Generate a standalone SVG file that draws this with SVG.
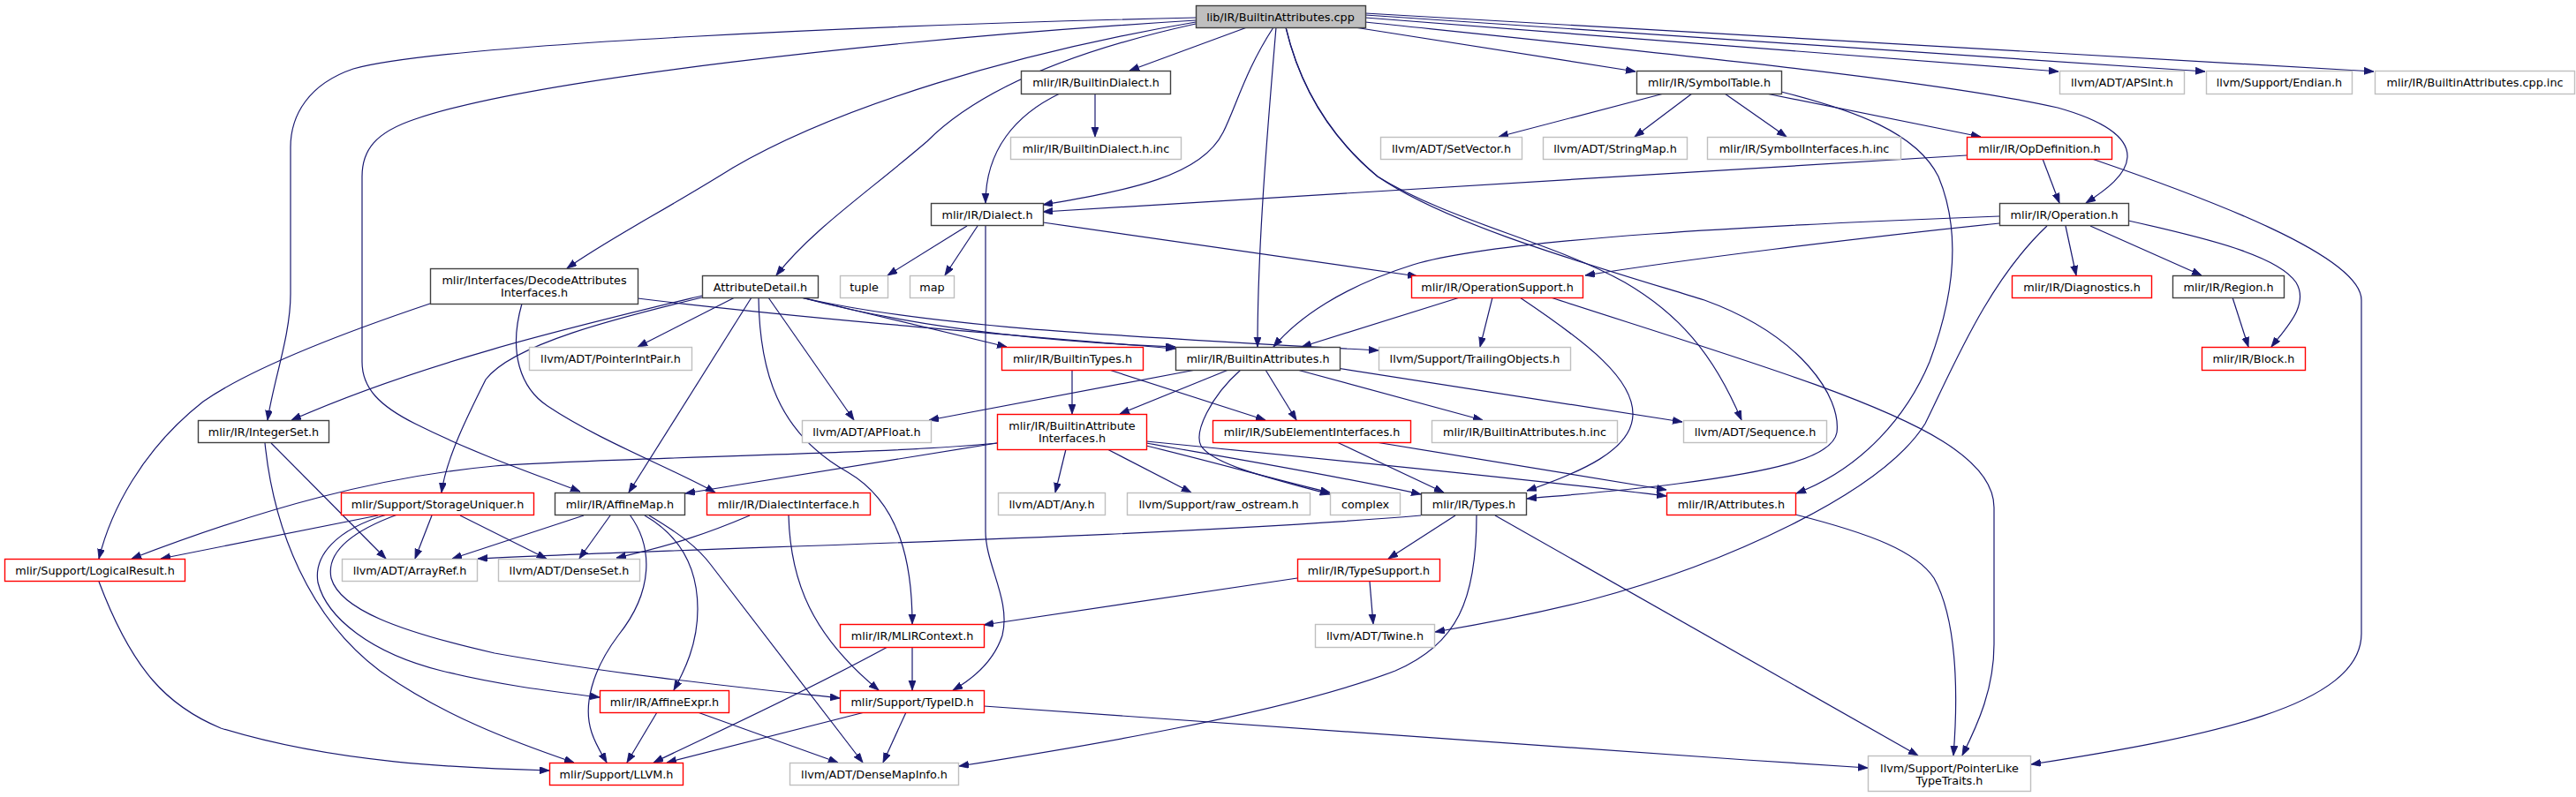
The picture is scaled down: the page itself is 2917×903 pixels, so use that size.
<svg xmlns="http://www.w3.org/2000/svg" width="2917" height="903" viewBox="0 0 2917 903">
<defs>
<marker id="ah" markerUnits="userSpaceOnUse" markerWidth="12" markerHeight="9" refX="11" refY="4" orient="auto">
<path d="M0,0 L11,4 L0,8 z" fill="#191970" stroke="#191970" stroke-width="0.8"/>
</marker>
<style>
.node rect{fill:#ffffff;stroke-width:1.4}
.k{stroke:#404040}
.g{stroke:#bfbfbf}
.r{stroke:#ff0000}
.root{fill:#bfbfbf !important}
text{font-family:"DejaVu Sans","Liberation Sans",sans-serif;font-size:12.8px;fill:#000000;text-anchor:middle}
.edges path{fill:none;stroke:#191970;stroke-width:1.2;marker-end:url(#ah)}
</style>
</defs>
<rect x="0" y="0" width="2917" height="903" fill="#ffffff"/>
<g id="edges" class="edges">
<path d="M1412,31 L1279,80"/>
<path d="M1534,31 L1852,81"/>
<path d="M1546,20 L2331,81"/>
<path d="M1546,17 L2497,81"/>
<path d="M1546,15 L2688,81"/>
<path d="M1546,25 C1900,62 2200,92 2330,122 C2380,136 2410,155 2409,178 C2408,198 2385,215 2362,230"/>
<path d="M1354,20 C1000,28 500,50 400,78 C350,95 329,130 329,167 L329,333 C329,380 310,430 303,476"/>
<path d="M1354,23 C1000,45 600,90 470,135 C425,150 410,170 410,200 L410,410 C410,440 430,460 470,480 C540,515 600,535 657,557"/>
<path d="M1354,25 C1150,60 950,120 830,190 C750,240 690,270 642,304"/>
<path d="M1354,27 C1250,50 1120,90 1050,160 C980,220 920,260 879,312"/>
<path d="M1442,31 C1410,80 1400,120 1385,150 C1360,200 1280,215 1181,232"/>
<path d="M1445,31 C1435,150 1424,280 1424,393"/>
<path d="M1456,31 C1470,90 1500,150 1560,200 C1640,250 1760,275 1840,320 C1900,355 1940,400 1972,476"/>
<path d="M1456,31 C1470,90 1500,150 1560,200 C1640,255 1800,300 1930,340 C2040,380 2085,450 2080,490 C2075,520 2000,535 1900,548 C1820,558 1760,562 1729,565"/>
<path d="M1200,106 C1150,130 1116,170 1116,230"/>
<path d="M1240,106 L1240,155"/>
<path d="M1884,106 L1697,155"/>
<path d="M1916,106 L1851,155"/>
<path d="M1953,106 L2023,155"/>
<path d="M2000,106 L2243,155"/>
<path d="M2017,104 C2100,125 2170,150 2195,200 C2220,260 2215,330 2185,410 C2160,470 2110,530 2034,559"/>
<path d="M2227,176 L1181,240"/>
<path d="M2313,180 L2332,230"/>
<path d="M2369,180 C2500,225 2674,290 2674,340 L2674,718 C2674,800 2500,835 2300,866"/>
<path d="M2264,253 C2100,270 1900,295 1795,312"/>
<path d="M2264,245 C2000,255 1700,270 1600,300 C1520,325 1470,360 1442,393"/>
<path d="M2339,256 L2351,312"/>
<path d="M2367,256 L2493,312"/>
<path d="M2410,250 C2500,270 2580,290 2600,320 C2615,345 2590,370 2572,393"/>
<path d="M2318,256 C2250,320 2210,420 2180,480 C2130,560 1950,640 1800,680 C1720,700 1660,710 1625,716"/>
<path d="M2528,337 L2546,393"/>
<path d="M1095,256 L1005,312"/>
<path d="M1107,256 L1070,312"/>
<path d="M1181,252 L1605,313"/>
<path d="M1116,256 L1116,602 C1116,640 1145,680 1135,720 C1125,750 1100,770 1079,782"/>
<path d="M487,344 C380,380 280,420 230,455 C160,510 125,580 112,633"/>
<path d="M591,344 C575,400 590,440 620,460 C680,500 760,530 810,558"/>
<path d="M722,338 C900,360 1150,380 1331,395"/>
<path d="M795,335 C650,370 480,410 330,476"/>
<path d="M795,337 C700,360 580,390 550,430 C530,470 505,520 500,558"/>
<path d="M832,337 L722,393"/>
<path d="M851,337 L712,558"/>
<path d="M859,337 C860,420 880,490 960,535 C1020,570 1033,640 1033,707"/>
<path d="M870,337 L967,476"/>
<path d="M907,337 L1140,393"/>
<path d="M907,337 C1050,375 1200,388 1331,393"/>
<path d="M907,337 C1050,370 1250,380 1561,397"/>
<path d="M1214,419 L1214,469"/>
<path d="M1256,419 L1433,476"/>
<path d="M1354,419 L1052,476"/>
<path d="M1391,419 L1268,469"/>
<path d="M1433,419 L1468,476"/>
<path d="M1405,419 C1370,450 1352,490 1360,505 C1372,525 1430,540 1506,560"/>
<path d="M1469,419 L1679,476"/>
<path d="M1507,416 L1905,478"/>
<path d="M1653,337 L1474,393"/>
<path d="M1690,337 L1676,393"/>
<path d="M1721,337 C1800,390 1850,430 1849,470 C1848,510 1790,535 1729,556"/>
<path d="M1756,337 C1950,400 2120,450 2200,500 C2240,525 2258,550 2258,575 L2258,730 C2258,780 2240,820 2222,856"/>
<path d="M1129,502 L776,559"/>
<path d="M1129,502 C1000,515 700,518 560,528 C430,540 300,575 149,633"/>
<path d="M1207,509 L1195,558"/>
<path d="M1254,509 L1349,558"/>
<path d="M1298,505 C1380,525 1450,545 1506,558"/>
<path d="M1298,502 C1400,520 1520,540 1609,560"/>
<path d="M1298,500 C1500,520 1750,545 1887,562"/>
<path d="M1514,501 L1635,558"/>
<path d="M1558,501 L1887,555"/>
<path d="M1648,584 L1572,633"/>
<path d="M1609,584 C1300,610 800,620 541,633"/>
<path d="M1672,584 C1672,680 1650,730 1580,760 C1450,810 1200,850 1086,868"/>
<path d="M1693,584 L2172,856"/>
<path d="M2033,583 C2120,605 2170,625 2190,655 C2215,700 2218,780 2212,856"/>
<path d="M1469,655 L1114,708"/>
<path d="M1551,659 L1555,707"/>
<path d="M428,584 L182,633"/>
<path d="M489,584 L470,633"/>
<path d="M521,584 L619,633"/>
<path d="M438,583 C380,600 355,630 360,660 C370,700 420,740 500,760 C560,775 620,783 679,790"/>
<path d="M450,583 C390,605 370,630 375,655 C385,690 450,715 560,740 C700,765 850,780 951,791"/>
<path d="M300,502 C310,600 350,700 430,760 C500,810 580,840 650,864"/>
<path d="M307,502 L437,633"/>
<path d="M661,584 L512,633"/>
<path d="M691,584 L656,633"/>
<path d="M713,583 C740,620 740,670 700,720 C670,760 660,800 670,830 C675,845 682,855 687,864"/>
<path d="M730,584 C775,610 790,650 790,690 C790,730 775,760 763,782"/>
<path d="M735,584 C770,605 790,620 805,640 L977,864"/>
<path d="M849,584 C800,605 760,618 698,632"/>
<path d="M893,584 C895,660 920,720 995,782"/>
<path d="M1033,733 L1033,782"/>
<path d="M1005,733 C900,790 810,830 740,864"/>
<path d="M979,807 L755,864"/>
<path d="M1026,807 L1000,864"/>
<path d="M1114,800 C1500,826 1800,850 2115,870"/>
<path d="M790,807 L949,864"/>
<path d="M744,807 L710,864"/>
<path d="M112,659 C150,760 190,800 250,825 C380,865 520,870 622,873"/>
</g>
<g id="n1" class="node"><rect class="k root" x="1354.5" y="6.5" width="192" height="25"/><text x="1450" y="23.5">lib/IR/BuiltinAttributes.cpp</text></g>
<g id="n2" class="node"><rect class="k" x="1156.5" y="80.5" width="169" height="26"/><text x="1241" y="97.5">mlir/IR/BuiltinDialect.h</text></g>
<g id="n3" class="node"><rect class="k" x="1853.5" y="80.5" width="164" height="26"/><text x="1935.5" y="97.5">mlir/IR/SymbolTable.h</text></g>
<g id="n4" class="node"><rect class="g" x="2332.5" y="80.5" width="141" height="26"/><text x="2403" y="97.5">llvm/ADT/APSInt.h</text></g>
<g id="n5" class="node"><rect class="g" x="2498.5" y="80.5" width="165" height="26"/><text x="2581" y="97.5">llvm/Support/Endian.h</text></g>
<g id="n6" class="node"><rect class="g" x="2689.5" y="80.5" width="226" height="26"/><text x="2802.5" y="97.5">mlir/IR/BuiltinAttributes.cpp.inc</text></g>
<g id="n7" class="node"><rect class="g" x="1144.5" y="155.5" width="193" height="25"/><text x="1241" y="172.5">mlir/IR/BuiltinDialect.h.inc</text></g>
<g id="n8" class="node"><rect class="g" x="1563.5" y="155.5" width="160" height="25"/><text x="1643.5" y="172.5">llvm/ADT/SetVector.h</text></g>
<g id="n9" class="node"><rect class="g" x="1747.5" y="155.5" width="163" height="25"/><text x="1829" y="172.5">llvm/ADT/StringMap.h</text></g>
<g id="n10" class="node"><rect class="g" x="1933.5" y="155.5" width="219" height="25"/><text x="2043" y="172.5">mlir/IR/SymbolInterfaces.h.inc</text></g>
<g id="n11" class="node"><rect class="r" x="2227.5" y="155.5" width="164" height="25"/><text x="2309.5" y="172.5">mlir/IR/OpDefinition.h</text></g>
<g id="n12" class="node"><rect class="k" x="1054.5" y="230.5" width="127" height="25"/><text x="1118" y="247.5">mlir/IR/Dialect.h</text></g>
<g id="n13" class="node"><rect class="k" x="2264.5" y="230.5" width="146" height="25"/><text x="2337.5" y="247.5">mlir/IR/Operation.h</text></g>
<g id="n14" class="node"><rect class="k" x="487.5" y="304.5" width="235" height="40"/><text x="605" y="321.5">mlir/Interfaces/DecodeAttributes</text><text x="605" y="335.5">Interfaces.h</text></g>
<g id="n15" class="node"><rect class="k" x="795.5" y="312.5" width="131" height="25"/><text x="861" y="329.5">AttributeDetail.h</text></g>
<g id="n16" class="node"><rect class="g" x="951.5" y="312.5" width="54" height="25"/><text x="978.5" y="329.5">tuple</text></g>
<g id="n17" class="node"><rect class="g" x="1030.5" y="312.5" width="50" height="25"/><text x="1055.5" y="329.5">map</text></g>
<g id="n18" class="node"><rect class="r" x="1598.5" y="312.5" width="194" height="25"/><text x="1695.5" y="329.5">mlir/IR/OperationSupport.h</text></g>
<g id="n19" class="node"><rect class="r" x="2278.5" y="312.5" width="158" height="25"/><text x="2357.5" y="329.5">mlir/IR/Diagnostics.h</text></g>
<g id="n20" class="node"><rect class="k" x="2460.5" y="312.5" width="126" height="25"/><text x="2523.5" y="329.5">mlir/IR/Region.h</text></g>
<g id="n21" class="node"><rect class="g" x="599.5" y="393.5" width="184" height="26"/><text x="691.5" y="410.5">llvm/ADT/PointerIntPair.h</text></g>
<g id="n22" class="node"><rect class="r" x="1134.5" y="393.5" width="160" height="26"/><text x="1214.5" y="410.5">mlir/IR/BuiltinTypes.h</text></g>
<g id="n23" class="node"><rect class="k" x="1331.5" y="393.5" width="186" height="26"/><text x="1424.5" y="410.5">mlir/IR/BuiltinAttributes.h</text></g>
<g id="n24" class="node"><rect class="g" x="1561.5" y="393.5" width="217" height="26"/><text x="1670" y="410.5">llvm/Support/TrailingObjects.h</text></g>
<g id="n25" class="node"><rect class="r" x="2493.5" y="393.5" width="117" height="26"/><text x="2552" y="410.5">mlir/IR/Block.h</text></g>
<g id="n26" class="node"><rect class="k" x="224.5" y="476.5" width="148" height="25"/><text x="298.5" y="493.5">mlir/IR/IntegerSet.h</text></g>
<g id="n27" class="node"><rect class="g" x="908.5" y="476.5" width="146" height="25"/><text x="981.5" y="493.5">llvm/ADT/APFloat.h</text></g>
<g id="n28" class="node"><rect class="r" x="1129.5" y="469.5" width="169" height="40"/><text x="1214" y="486.5">mlir/IR/BuiltinAttribute</text><text x="1214" y="500.5">Interfaces.h</text></g>
<g id="n29" class="node"><rect class="r" x="1373.5" y="476.5" width="224" height="25"/><text x="1485.5" y="493.5">mlir/IR/SubElementInterfaces.h</text></g>
<g id="n30" class="node"><rect class="g" x="1621.5" y="476.5" width="210" height="25"/><text x="1726.5" y="493.5">mlir/IR/BuiltinAttributes.h.inc</text></g>
<g id="n31" class="node"><rect class="g" x="1906.5" y="476.5" width="162" height="25"/><text x="1987.5" y="493.5">llvm/ADT/Sequence.h</text></g>
<g id="n32" class="node"><rect class="r" x="386.5" y="558.5" width="218" height="25"/><text x="495.5" y="575.5">mlir/Support/StorageUniquer.h</text></g>
<g id="n33" class="node"><rect class="k" x="628.5" y="558.5" width="147" height="25"/><text x="702" y="575.5">mlir/IR/AffineMap.h</text></g>
<g id="n34" class="node"><rect class="r" x="800.5" y="558.5" width="185" height="25"/><text x="893" y="575.5">mlir/IR/DialectInterface.h</text></g>
<g id="n35" class="node"><rect class="g" x="1130.5" y="558.5" width="121" height="25"/><text x="1191" y="575.5">llvm/ADT/Any.h</text></g>
<g id="n36" class="node"><rect class="g" x="1276.5" y="558.5" width="207" height="25"/><text x="1380" y="575.5">llvm/Support/raw_ostream.h</text></g>
<g id="n37" class="node"><rect class="g" x="1506.5" y="558.5" width="79" height="25"/><text x="1546" y="575.5">complex</text></g>
<g id="n38" class="node"><rect class="k" x="1609.5" y="558.5" width="119" height="25"/><text x="1669" y="575.5">mlir/IR/Types.h</text></g>
<g id="n39" class="node"><rect class="r" x="1887.5" y="558.5" width="146" height="25"/><text x="1960.5" y="575.5">mlir/IR/Attributes.h</text></g>
<g id="n40" class="node"><rect class="r" x="5.5" y="633.5" width="204" height="25"/><text x="107.5" y="650.5">mlir/Support/LogicalResult.h</text></g>
<g id="n41" class="node"><rect class="g" x="387.5" y="633.5" width="153" height="25"/><text x="464" y="650.5">llvm/ADT/ArrayRef.h</text></g>
<g id="n42" class="node"><rect class="g" x="564.5" y="633.5" width="160" height="25"/><text x="644.5" y="650.5">llvm/ADT/DenseSet.h</text></g>
<g id="n43" class="node"><rect class="r" x="1469.5" y="633.5" width="161" height="25"/><text x="1550" y="650.5">mlir/IR/TypeSupport.h</text></g>
<g id="n44" class="node"><rect class="r" x="951.5" y="707.5" width="163" height="26"/><text x="1033" y="724.5">mlir/IR/MLIRContext.h</text></g>
<g id="n45" class="node"><rect class="g" x="1489.5" y="707.5" width="135" height="26"/><text x="1557" y="724.5">llvm/ADT/Twine.h</text></g>
<g id="n46" class="node"><rect class="r" x="679.5" y="782.5" width="146" height="25"/><text x="752.5" y="799.5">mlir/IR/AffineExpr.h</text></g>
<g id="n47" class="node"><rect class="r" x="951.5" y="782.5" width="163" height="25"/><text x="1033" y="799.5">mlir/Support/TypeID.h</text></g>
<g id="n48" class="node"><rect class="r" x="622.5" y="864.5" width="151" height="25"/><text x="698" y="881.5">mlir/Support/LLVM.h</text></g>
<g id="n49" class="node"><rect class="g" x="894.5" y="864.5" width="191" height="25"/><text x="990" y="881.5">llvm/ADT/DenseMapInfo.h</text></g>
<g id="n50" class="node"><rect class="g" x="2115.5" y="856.5" width="184" height="40"/><text x="2207.5" y="874.5">llvm/Support/PointerLike</text><text x="2207.5" y="888.5">TypeTraits.h</text></g>
</svg>
